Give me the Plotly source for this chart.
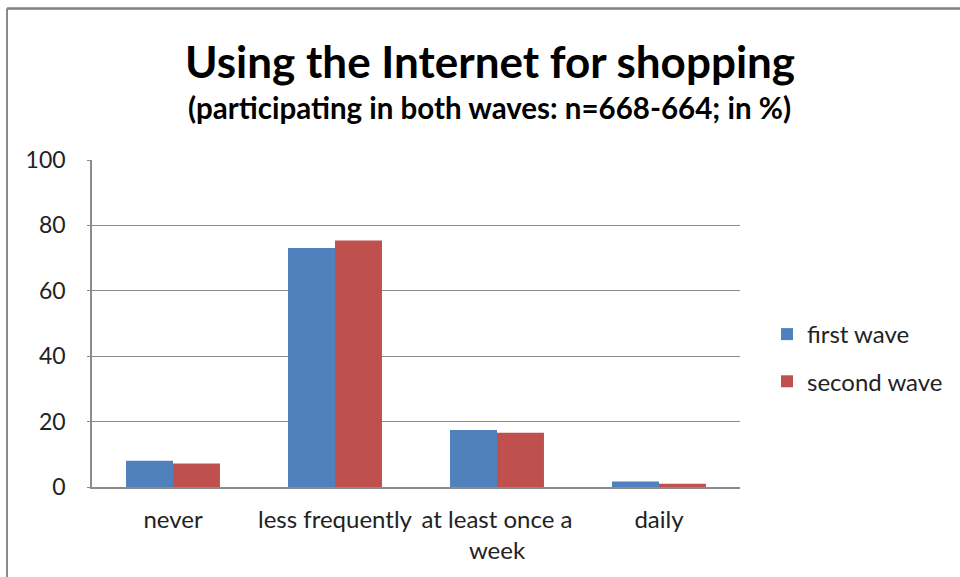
import plotly.graph_objects as go

# Survey data (percent of respondents)
categories = ["never", "less frequently", "at least once a week", "daily"]
tick_labels = ["never", "less frequently", "at least once a<br>week", "daily"]
first_wave = [8.0, 73.1, 17.4, 1.7]
second_wave = [7.2, 75.4, 16.6, 1.0]
y_ticks = [0, 20, 40, 60, 80, 100]

FONT = "Lato"
GRID = "#8c8c8c"
TXT = "#222222"

fig = go.Figure()
fig.add_trace(go.Bar(
    name="first wave", x=categories, y=first_wave,
    marker=dict(color="#4F81BD", line=dict(width=0)),
    legendgroup="a",
))
fig.add_trace(go.Bar(
    name="second wave", x=categories, y=second_wave,
    marker=dict(color="#C0504D", line=dict(width=0)),
    legendgroup="b",
))

L, R, T, B = 92, 220, 160, 90
W, H = 960, 577
pw = W - L - R
ph = H - T - B


def py(pix):
    """Paper y for a pixel row measured from the top of the page."""
    return (H - B - pix) / ph


def px(pix):
    """Paper x for a pixel column measured from the left of the page."""
    return (pix - L) / pw


fig.update_layout(
    width=W, height=H,
    margin=dict(l=L, r=R, t=T, b=B),
    paper_bgcolor="white", plot_bgcolor="white",
    barmode="group", bargap=0.42, bargroupgap=0,
    font=dict(family=FONT, color=TXT),
    showlegend=True,
    legend=dict(
        x=px(767), y=py(358),
        xanchor="left", yanchor="middle",
        font=dict(size=24, family=FONT, color=TXT),
        traceorder="grouped", tracegroupgap=13,
        bgcolor="rgba(0,0,0,0)",
    ),
    xaxis=dict(
        tickmode="array", tickvals=categories, ticktext=tick_labels,
        tickfont=dict(size=24, family=FONT, color=TXT),
        showline=True, linecolor=GRID, linewidth=1.5,
        showgrid=False, ticks="", ticklabelstandoff=10,
        fixedrange=True,
    ),
    yaxis=dict(
        range=[0, 100], tickvals=y_ticks,
        tickfont=dict(size=23, family=FONT, color=TXT),
        showline=True, linecolor=GRID, linewidth=1.5,
        showgrid=True, gridcolor=GRID, gridwidth=1.2,
        ticks="outside", ticklen=3, tickcolor=GRID,
        ticklabelstandoff=17, zeroline=False,
        fixedrange=True,
    ),
    annotations=[
        dict(
            text="<b>Using the Internet for shopping</b>",
            x=px(490), y=py(61), xref="paper", yref="paper",
            xanchor="center", yanchor="middle", showarrow=False,
            font=dict(size=44, family=FONT, color="black"),
        ),
        dict(
            text="<b>(participating in both waves: n=668-664; in %)</b>",
            x=px(490), y=py(108), xref="paper", yref="paper",
            xanchor="center", yanchor="middle", showarrow=False,
            font=dict(size=29.5, family=FONT, color="black"),
        ),
    ],
)

# outer chart frame (left and top edges)
fig.add_shape(type="line", xref="paper", yref="paper",
              x0=px(7), x1=px(7), y0=py(8.5), y1=py(600),
              line=dict(color="#8a8a8a", width=2))
fig.add_shape(type="line", xref="paper", yref="paper",
              x0=px(7), x1=px(970), y0=py(8.5), y1=py(8.5),
              line=dict(color="#808080", width=2.5))

fig.write_html("out.html")
